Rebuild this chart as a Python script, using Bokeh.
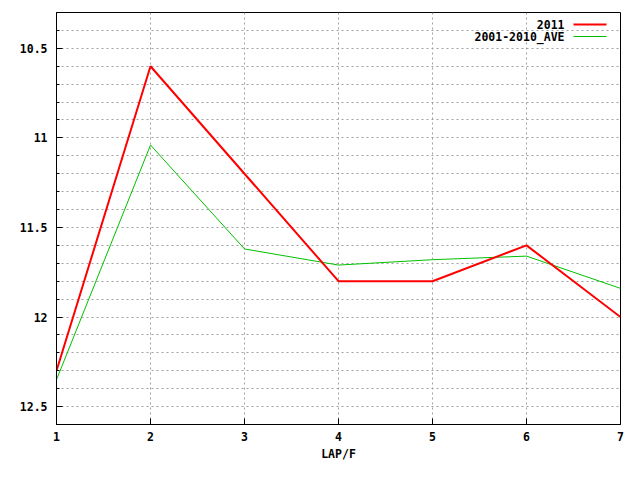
import numpy as np
from bokeh.plotting import figure
from bokeh.models import (
    ColumnDataSource, Range1d, FixedTicker, Label, Arrow
)
from bokeh.embed import file_html
from bokeh.resources import INLINE

# Data
laps = [1, 2, 3, 4, 5, 6, 7]
times_2011 = [12.3, 10.6, 11.2, 11.8, 11.8, 11.6, 12.0]
times_ave = [12.35, 11.04, 11.62, 11.71, 11.68, 11.66, 11.84]
series_names = ["2011", "2001-2010_AVE"]
y_major = [10.5, 11, 11.5, 12, 12.5]
y_labels = ["10.5", "11", "11.5", "12", "12.5"]

FONT = "DejaVu Sans Mono"
FSIZE = "11.5px"
FRAME_W, FRAME_H = 564, 412
y_tenths = [round(v, 1) for v in np.arange(10.3, 12.61, 0.1)]

p = figure(
    frame_width=FRAME_W, frame_height=FRAME_H,
    x_range=Range1d(1, 7), y_range=Range1d(12.6, 10.3),
    output_backend="svg", toolbar_location=None,
    min_border_left=56, min_border_right=4,
    min_border_top=12, min_border_bottom=10,
)
p.background_fill_color = "white"
p.border_fill_color = "white"
p.outline_line_color = "black"

# Axes
p.xaxis.ticker = FixedTicker(ticks=laps)
p.yaxis.ticker = FixedTicker(ticks=y_major, minor_ticks=y_tenths)
p.yaxis.major_label_overrides = {v: s for v, s in zip(y_major, y_labels)}
p.xaxis.axis_label = "LAP/F"
for ax in (p.xaxis, p.yaxis):
    ax.axis_line_color = "black"
    ax.major_tick_in = 6
    ax.major_tick_out = 0
    ax.minor_tick_in = 3
    ax.minor_tick_out = 0
    ax.major_tick_line_color = "black"
    ax.minor_tick_line_color = "black"
    ax.major_label_text_font = FONT
    ax.major_label_text_font_style = "bold"
    ax.major_label_text_font_size = FSIZE
    ax.major_label_text_color = "black"
    ax.axis_label_text_font = FONT
    ax.axis_label_text_font_style = "bold"
    ax.axis_label_text_font_size = FSIZE
    ax.axis_label_text_color = "black"
p.xaxis.major_label_standoff = 7
p.xaxis.axis_label_standoff = 3
p.yaxis.major_label_standoff = 9
p.xaxis.minor_tick_line_color = None

# Grid
p.xgrid.ticker = FixedTicker(ticks=laps)
p.ygrid.ticker = FixedTicker(ticks=y_tenths)
for g in (p.xgrid, p.ygrid):
    g.grid_line_color = "#a0a0a0"
    g.grid_line_dash = "2 3"
    g.grid_line_width = 1

# Series
src = ColumnDataSource(data=dict(lap=laps, t2011=times_2011, tave=times_ave))
p.line("lap", "tave", source=src, line_color="#00c000", line_width=1)
p.line("lap", "t2011", source=src, line_color="#ff0000", line_width=2)

# Legend (gnuplot style: text right, sample line after)
for i, (name, color, lw) in enumerate(zip(series_names, ["#ff0000", "#00c000"], [2, 1])):
    ys = FRAME_H - 12 - 12 * i
    p.add_layout(Label(
        x=508, y=ys, x_units="screen", y_units="screen", text=name,
        text_align="right", text_baseline="middle",
        text_font=FONT, text_font_style="bold", text_font_size=FSIZE,
        text_color="black",
    ))
    p.add_layout(Arrow(
        end=None, x_start=517, y_start=ys, x_end=550, y_end=ys,
        start_units="screen", end_units="screen",
        line_color=color, line_width=lw,
    ))

open("out.html", "w").write(file_html(p, INLINE))
